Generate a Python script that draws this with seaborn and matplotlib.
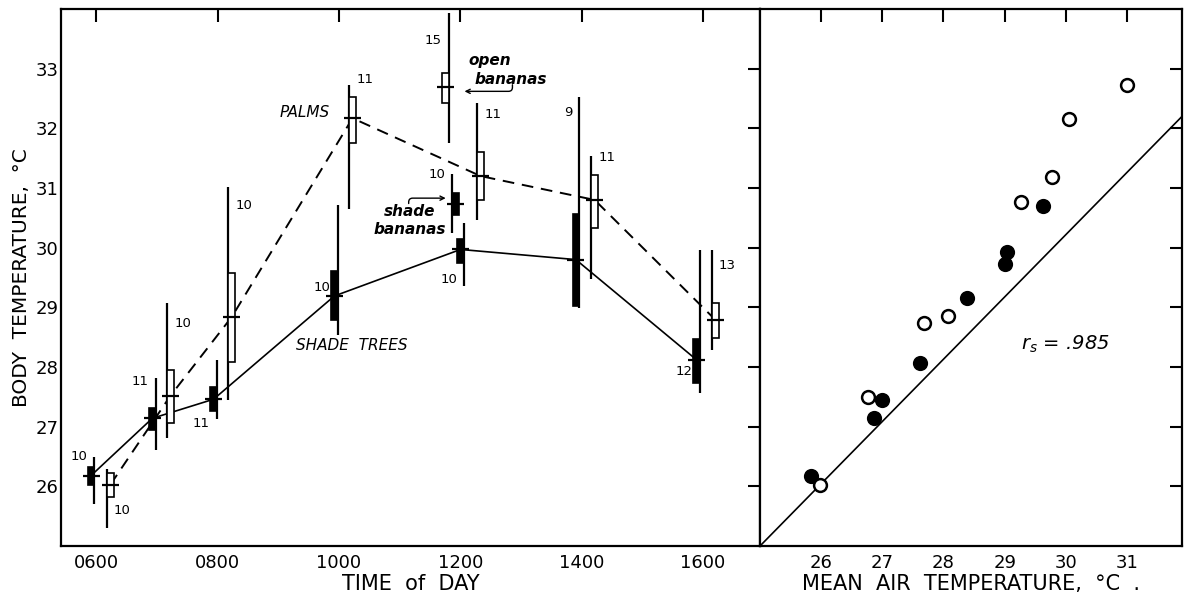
import numpy as np
import matplotlib
matplotlib.use('Agg')
from matplotlib import pyplot as plt
import seaborn as sns

# shade trees (filled boxes), hour of the range line
shade_time = [5.97, 6.98, 7.99, 9.98, 12.06, 13.96, 15.95]
shade_max = [26.50, 27.81, 28.12, 30.72, 30.42, 32.53, 29.96]
shade_min = [25.70, 26.61, 27.13, 28.54, 29.35, 28.99, 27.57]
shade_hi = [26.32, 27.31, 27.66, 29.61, 30.14, 30.56, 28.47]
shade_lo = [26.03, 26.94, 27.27, 28.78, 29.74, 29.03, 27.74]
shade_mean = [26.18, 27.14, 27.46, 29.19, 29.97, 29.80, 28.12]
shade_n = [10, 11, 11, 10, 10, 9, 12]

# palms (open boxes)
palm_time = [6.18, 7.17, 8.18, 10.17, 12.28, 14.16, 16.15]
palm_max = [26.29, 29.08, 31.01, 32.72, 32.42, 31.54, 29.96]
palm_min = [25.31, 26.81, 27.44, 30.65, 30.46, 29.47, 28.28]
palm_hi = [26.22, 27.95, 29.57, 32.52, 31.61, 31.22, 29.07]
palm_lo = [25.82, 27.06, 28.08, 31.76, 30.80, 30.33, 28.48]
palm_mean = [26.03, 27.52, 28.84, 32.17, 31.20, 30.80, 28.79]
palm_n = [10, 10, 10, 11, 11, 11, 13]

# bananas at noon: shade (filled), open (open box)
banana_time = [11.87, 11.81]
banana_max = [31.24, 33.94]
banana_min = [30.25, 31.75]
banana_hi = [30.91, 32.93]
banana_lo = [30.55, 32.42]
banana_mean = [30.73, 32.70]
banana_n = [10, 15]

# right panel: mean air temperature vs body temperature
air_shade = [25.84, 26.86, 26.99, 27.61, 28.38, 29.01, 29.04, 29.62]
body_shade = [26.17, 27.15, 27.45, 28.06, 29.15, 29.73, 29.93, 30.69]
air_open = [25.98, 26.76, 27.68, 28.07, 29.27, 29.77, 30.05, 31.00]
body_open = [26.03, 27.50, 28.73, 28.85, 30.77, 31.18, 32.16, 32.73]
ref_line_x = [25.0, 31.9]
ref_line_y = [25.0, 32.2]

time_ticks = [6, 8, 10, 12, 14, 16]
time_labels = ['0600', '0800', '1000', '1200', '1400', '1600']
temp_ticks = [26, 27, 28, 29, 30, 31, 32, 33]
air_ticks = [26, 27, 28, 29, 30, 31]

# where the n labels sit (layout only)
shade_n_y = [26.50, 27.76, 27.06, 29.33, 29.47, 32.26, 27.93]
palm_n_y = [25.60, 28.73, 30.71, 32.82, 32.23, 31.51, 29.70]
banana_n_y = [31.23, 33.47]

BOX_W = 0.11
TICK_HALF = 0.14

sns.set_style('white')
plt.rcParams['font.family'] = ['DejaVu Sans']
plt.rcParams['mathtext.fontset'] = 'dejavusans'
plt.rcParams['text.color'] = 'k'
plt.rcParams['axes.labelcolor'] = 'k'
plt.rcParams['xtick.color'] = 'k'
plt.rcParams['ytick.color'] = 'k'

fig = plt.figure(figsize=(11.94, 5.94), dpi=100)
ax = fig.add_axes([61 / 1194, 48 / 594, 699 / 1194, 537 / 594])
ax2 = fig.add_axes([760 / 1194, 48 / 594, 422 / 1194, 537 / 594], sharey=ax)


def draw_group(ax, t, lo_r, hi_r, lo_b, hi_b, m, side, filled):
    t = np.asarray(t)
    centers = t + side * BOX_W / 2
    ax.vlines(t, lo_r, hi_r, color='k', lw=1.6, zorder=2)
    ax.bar(centers, np.asarray(hi_b) - np.asarray(lo_b), bottom=lo_b,
           width=BOX_W, color='k' if filled else 'white',
           edgecolor='k', lw=1.2, zorder=3)
    ax.hlines(m, centers - TICK_HALF, centers + TICK_HALF,
              color='k', lw=1.6, zorder=4)
    return centers


def draw_n(ax, t, ys, ns, side):
    for x, y, n in zip(t, ys, ns):
        ax.annotate(str(n), (x, y), xytext=(side * 5, 0),
                    textcoords='offset points', fontsize=9.5,
                    ha='left' if side > 0 else 'right', va='center')


# left panel
c_shade = draw_group(ax, shade_time, shade_min, shade_max, shade_lo,
                     shade_hi, shade_mean, -1, True)
c_palm = draw_group(ax, palm_time, palm_min, palm_max, palm_lo,
                    palm_hi, palm_mean, 1, False)
draw_group(ax, banana_time[:1], banana_min[:1], banana_max[:1],
           banana_lo[:1], banana_hi[:1], banana_mean[:1], 1, True)
draw_group(ax, banana_time[1:], banana_min[1:], banana_max[1:],
           banana_lo[1:], banana_hi[1:], banana_mean[1:], -1, False)

sns.lineplot(x=c_shade, y=shade_mean, ax=ax, color='k', lw=1.2,
             estimator=None, sort=False, zorder=1)
sns.lineplot(x=c_palm, y=palm_mean, ax=ax, color='k', lw=1.4,
             estimator=None, sort=False, zorder=1, dashes=False,
             linestyle=(0, (6, 4)))

draw_n(ax, shade_time, shade_n_y, shade_n, -1)
draw_n(ax, palm_time, palm_n_y, palm_n, 1)
draw_n(ax, banana_time, banana_n_y, banana_n, -1)

lab = dict(fontsize=11, style='italic')
ax.text(9.44, 32.26, 'PALMS', ha='center', va='center', **lab)
ax.text(10.21, 28.36, 'SHADE  TREES', ha='center', va='center', **lab)
ax.text(11.17, 30.45, 'shade\nbananas', ha='center', va='center',
        linespacing=1.25, fontsize=11, style='italic', fontweight='bold')
ax.text(12.49, 33.14, 'open', ha='center', va='center',
        fontsize=11, style='italic', fontweight='bold')
ax.text(12.83, 32.82, 'bananas', ha='center', va='center',
        fontsize=11, style='italic', fontweight='bold')
arrow = dict(arrowstyle='->,head_length=0.3,head_width=0.15', lw=1,
             color='k', shrinkA=0, shrinkB=0,
             connectionstyle='angle,angleA=90,angleB=0,rad=4')
ax.annotate('', xy=(11.76, 30.83), xytext=(11.15, 30.74), arrowprops=arrow)
ax.annotate('', xy=(12.07, 32.62), xytext=(12.86, 32.73), arrowprops=arrow)

ax.set_xlim(5.42, 16.94)
ax.set_ylim(25, 34)
ax.set_xticks(time_ticks)
ax.set_xticklabels(time_labels)
ax.set_yticks(temp_ticks)
ax.set_xlabel('TIME  of  DAY', fontsize=15, labelpad=1)
ax.set_ylabel('BODY  TEMPERATURE,  °C', fontsize=14.5, labelpad=3)

# right panel
sns.lineplot(x=ref_line_x, y=ref_line_y, ax=ax2, color='k', lw=1.2,
             estimator=None, zorder=1)
sns.scatterplot(x=air_shade, y=body_shade, ax=ax2, color='k', s=95,
                edgecolor='k', linewidth=1.2, zorder=3)
sns.scatterplot(x=air_open, y=body_open, ax=ax2, color='white', s=85,
                edgecolor='k', linewidth=1.8, zorder=3)
ax2.text(30.0, 28.38, r'$r_s$ = .985', ha='center', va='center',
         fontsize=14, style='italic')
ax2.set_xlim(25, 31.9)
ax2.set_xticks(air_ticks)
ax2.set_xlabel('MEAN  AIR  TEMPERATURE,  °C  .', fontsize=15, labelpad=1)

for a in (ax, ax2):
    a.tick_params(direction='in', length=9, width=1.5, top=True,
                  right=True, labelsize=13, pad=6)
    a.tick_params(axis='y', pad=2)
    for s in a.spines.values():
        s.set_linewidth(1.6)
        s.set_color('k')
ax2.tick_params(labelleft=False)

fig.savefig('out.png', dpi=100)
